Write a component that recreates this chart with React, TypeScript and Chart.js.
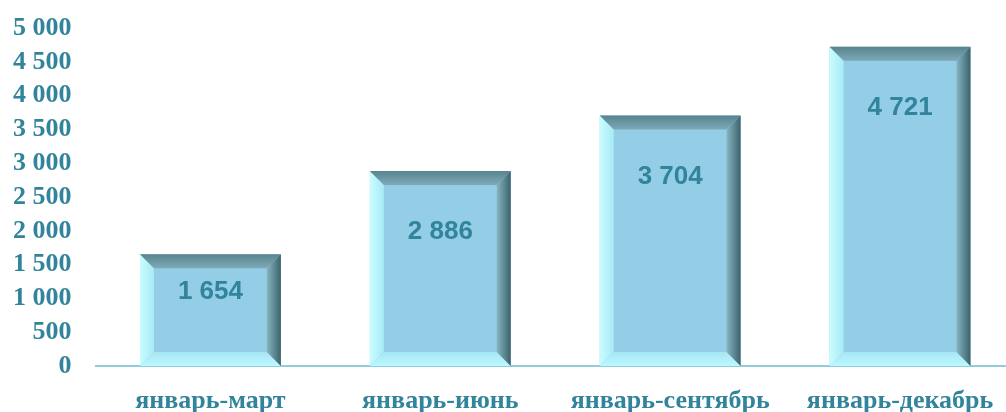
import React, { useEffect, useRef } from "react";
import { Chart, registerables } from "chart.js";

Chart.register(...registerables);

const categories = ["январь-март", "январь-июнь", "январь-сентябрь", "январь-декабрь"];
const values = [1654, 2886, 3704, 4721];
const yTicks = [0, 500, 1000, 1500, 2000, 2500, 3000, 3500, 4000, 4500, 5000];

const TEAL = "#31849B";
const FACE = "#93CDE6";

const fmt = (v: number) => String(v).replace(/\B(?=(\d{3})+(?!\d))/g, " ");

const bevelPlugin = {
  id: "bevel",
  afterDatasetsDraw(chart: any) {
    const ctx = chart.ctx;
    const meta = chart.getDatasetMeta(0);
    meta.data.forEach((bar: any, i: number) => {
      const { x, y, base, width } = bar.getProps(["x", "y", "base", "width"], true);
      const l = x - width / 2;
      const r = x + width / 2;
      const t = y;
      const bt = base;
      const b = 14;
      ctx.save();
      let g = ctx.createLinearGradient(l, 0, l + b, 0);
      g.addColorStop(0, "#C8FDFF");
      g.addColorStop(1, "#A8EAF6");
      ctx.fillStyle = g;
      ctx.beginPath();
      ctx.moveTo(l, t);
      ctx.lineTo(l + b, t + b);
      ctx.lineTo(l + b, bt - b);
      ctx.lineTo(l, bt);
      ctx.closePath();
      ctx.fill();
      g = ctx.createLinearGradient(0, bt - b, 0, bt);
      g.addColorStop(0, "#A6E6F4");
      g.addColorStop(1, "#BDF8FF");
      ctx.fillStyle = g;
      ctx.beginPath();
      ctx.moveTo(l, bt);
      ctx.lineTo(l + b, bt - b);
      ctx.lineTo(r - b, bt - b);
      ctx.lineTo(r, bt);
      ctx.closePath();
      ctx.fill();
      g = ctx.createLinearGradient(0, t, 0, t + b);
      g.addColorStop(0, "#58848F");
      g.addColorStop(1, "#7DAAB6");
      ctx.fillStyle = g;
      ctx.beginPath();
      ctx.moveTo(l, t);
      ctx.lineTo(r, t);
      ctx.lineTo(r - b, t + b);
      ctx.lineTo(l + b, t + b);
      ctx.closePath();
      ctx.fill();
      g = ctx.createLinearGradient(r - b, 0, r, 0);
      g.addColorStop(0, "#86B4C0");
      g.addColorStop(1, "#3B626C");
      ctx.fillStyle = g;
      ctx.beginPath();
      ctx.moveTo(r, t);
      ctx.lineTo(r, bt);
      ctx.lineTo(r - b, bt - b);
      ctx.lineTo(r - b, t + b);
      ctx.closePath();
      ctx.fill();
      const h = bt - t;
      const off = Math.min(61, h * 0.34);
      ctx.fillStyle = TEAL;
      ctx.font = "bold 26px 'Liberation Sans', Arial, sans-serif";
      ctx.textAlign = "center";
      ctx.textBaseline = "middle";
      ctx.fillText(fmt(values[i]), x, t + off);
      ctx.restore();
    });
  },
};

export default function App() {
  const ref = useRef<HTMLCanvasElement>(null);
  useEffect(() => {
    if (!ref.current) return;
    const chart = new Chart(ref.current, {
      type: "bar",
      data: {
        labels: categories,
        datasets: [
          {
            data: values,
            backgroundColor: FACE,
            borderWidth: 0,
            barPercentage: 0.613,
            categoryPercentage: 1,
          },
        ],
      },
      options: {
        animation: false,
        responsive: false,
        maintainAspectRatio: false,
        layout: { padding: { left: -11, right: 1, top: 28, bottom: -24 } },
        plugins: { legend: { display: false }, tooltip: { enabled: false } },
        scales: {
          y: {
            min: 0,
            max: 5000,
            afterBuildTicks: (axis: any) => {
              axis.ticks = yTicks.map((v) => ({ value: v }));
            },
            afterFit: (scale: any) => {
              scale.paddingTop = 0;
            },
            grid: { display: false, drawTicks: false },
            border: { display: false },
            ticks: {
              padding: 24,
              color: TEAL,
              font: { family: "'Liberation Serif', 'Times New Roman', serif", size: 26, weight: "bold", lineHeight: 1 },
              callback: (v: any) => fmt(Number(v)),
            },
          },
          x: {
            grid: { display: false, drawTicks: false },
            border: { display: true, color: "#92CDDC", width: 2 },
            ticks: {
              padding: 22,
              color: TEAL,
              maxRotation: 0,
              font: { family: "'Liberation Serif', 'Times New Roman', serif", size: 26, weight: "bold", lineHeight: 1 },
            },
          },
        },
      },
      plugins: [bevelPlugin],
    });
    return () => chart.destroy();
  }, []);
  return (
    <div style={{ position: "fixed", left: 0, top: 0, width: 1006, height: 412, overflow: "hidden", background: "#fff" }}>
      <canvas ref={ref} width={1016} height={412} style={{ width: 1016, height: 412, display: "block" }} />
    </div>
  );
}
